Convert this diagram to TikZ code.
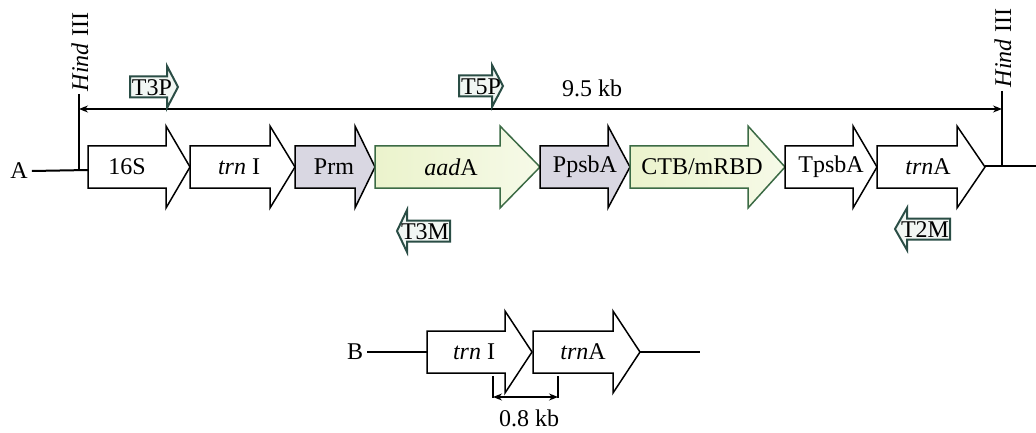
\documentclass[tikz,border=0pt]{standalone}
\usepackage{fontspec}
\setmainfont{Liberation Serif}
\usetikzlibrary{arrows.meta}

\definecolor{promgray}{HTML}{D9D7E2}
\definecolor{cdsgreen}{HTML}{3C6B45}
\definecolor{cdsleft}{HTML}{EBF3CC}
\definecolor{cdsright}{HTML}{F6FAE8}
\definecolor{primeredge}{HTML}{2A4D45}
\definecolor{primerfill}{HTML}{F1F6F3}

\tikzset{
  geneplain/.style={draw=black, line width=1.5pt, fill=white, line join=miter},
  genepromoter/.style={draw=black, line width=1.5pt, fill=promgray, line join=miter},
  genecds/.style={draw=cdsgreen, line width=1.5pt, left color=cdsleft, right color=cdsright, line join=miter},
  primer/.style={draw=primeredge, line width=2pt, fill=primerfill, line join=miter},
  genelabel/.style={inner sep=0pt, font=\fontsize{24}{27}\selectfont},
  primerlabel/.style={inner sep=0pt, font=\fontsize{24}{27}\selectfont},
  plainlabel/.style={inner sep=0pt, font=\fontsize{24}{27}\selectfont},
  backbone/.style={line width=2pt},
  sitemark/.style={line width=2pt},
  dimline/.style={line width=1.2pt, {Stealth[length=9pt,width=7pt]}-{Stealth[length=9pt,width=7pt]}},
}

% forward gene arrow: style, left x, head start x, tip x, centre y
\newcommand{\fwdgene}[5]{%
  \draw[#1] (#2,#5-21) -- (#3,#5-21) -- (#3,#5-41) -- (#4,#5) -- (#3,#5+41)
    -- (#3,#5+21) -- (#2,#5+21) -- cycle;}
% forward primer: left x, head start x, tip x, centre y
\newcommand{\fwdprimer}[4]{%
  \draw[primer] (#1,#4-10.5) -- (#2,#4-10.5) -- (#2,#4-21) -- (#3,#4) -- (#2,#4+21)
    -- (#2,#4+10.5) -- (#1,#4+10.5) -- cycle;}
% reverse primer: tip x, head base x, right x, centre y
\newcommand{\revprimer}[4]{%
  \draw[primer] (#3,#4-10.5) -- (#2,#4-10.5) -- (#2,#4-21) -- (#1,#4) -- (#2,#4+21)
    -- (#2,#4+10.5) -- (#3,#4+10.5) -- cycle;}

\begin{document}
\begin{tikzpicture}[x=1pt, y=-1pt]
\useasboundingbox (0,0) rectangle (1036,433);

% ---------- construct A ----------
\node[plainlabel] (labA) at (19,171) {A};

\fwdgene{geneplain}{88}{166}{190}{167}
\fwdgene{geneplain}{190}{270}{295}{167}
\fwdgene{genepromoter}{295}{355}{375}{167}
\fwdgene{genecds}{375}{500}{540}{167}
\fwdgene{genepromoter}{540}{608}{630}{167}
\fwdgene{genecds}{630}{748}{785}{167}
\fwdgene{geneplain}{785}{853}{877}{167}
\fwdgene{geneplain}{877}{957}{985}{167}

\node[genelabel] (g16s) at (127,167) {16S};
\node[genelabel] (gtrnI) at (239,167) {\textit{trn} I};
\node[genelabel] (gprm) at (334,167) {Prm};
\node[genelabel] (gaada) at (451,167) {\textit{aad}A};
\node[genelabel] (gppsba) at (585,167) {PpsbA};
\node[genelabel] (gctb) at (702,167) {CTB/mRBD};
\node[genelabel] (gtpsba) at (831,167) {TpsbA};
\node[genelabel] (gtrnA) at (928,167) {\textit{trn}A};

\coordinate (aStart) at (88,170);
\coordinate (aEnd) at (985,166);
\coordinate (aRight) at (1036,166);
\draw[backbone] (labA.east) ++(4,0) -- (aStart);
\draw[backbone] (aEnd) -- (aRight);

% HindIII sites
\coordinate (hLeftTop) at (79,94);
\coordinate (hLeftBot) at (79,170);
\coordinate (hRightTop) at (1002,91);
\coordinate (hRightBot) at (1002,166);
\draw[sitemark] (hLeftTop) -- (hLeftBot);
\draw[sitemark] (hRightTop) -- (hRightBot);
\node[plainlabel, rotate=90] (hindL) at (80,52) {\textit{Hind} III};
\node[plainlabel, rotate=90] (hindR) at (1003,48) {\textit{Hind} III};

% fragment length
\coordinate (dimL) at (79,109);
\coordinate (dimR) at (1002,109);
\draw[dimline] (dimL) -- (dimR);
\node[plainlabel] (len95) at (592,88) {9.5 kb};

% primers
\fwdprimer{130}{167}{178}{87}
\node[primerlabel] (pT3P) at (152,88) {T3P};
\fwdprimer{459}{492}{503}{86}
\node[primerlabel] (pT5P) at (481,87) {T5P};
\revprimer{397}{407}{450}{231}
\node[primerlabel] (pT3M) at (425,232) {T3M};
\revprimer{895}{907}{950}{229}
\node[primerlabel] (pT2M) at (925,230) {T2M};

% ---------- construct B ----------
\node[plainlabel] (labB) at (355,352) {B};
\fwdgene{geneplain}{427}{505}{532}{352}
\fwdgene{geneplain}{533}{613}{640}{352}
\node[genelabel] (btrnI) at (474,352) {\textit{trn} I};
\node[genelabel] (btrnA) at (583,352) {\textit{trn}A};

\coordinate (bStart) at (427,352);
\coordinate (bEnd) at (640,352);
\coordinate (bRight) at (700,352);
\draw[backbone] (labB.east) ++(4,0) -- (bStart);
\draw[backbone] (bEnd) -- (bRight);

\coordinate (tickLtop) at (493,376);
\coordinate (tickLbot) at (493,398);
\coordinate (tickRtop) at (558,376);
\coordinate (tickRbot) at (558,398);
\draw[line width=1.5pt] (tickLtop) -- (tickLbot);
\draw[line width=1.5pt] (tickRtop) -- (tickRbot);
\coordinate (dimBL) at (493,397);
\coordinate (dimBR) at (558,397);
\draw[dimline] (dimBL) -- (dimBR);
\node[plainlabel] (len08) at (529,418) {0.8 kb};
\end{tikzpicture}
\end{document}
